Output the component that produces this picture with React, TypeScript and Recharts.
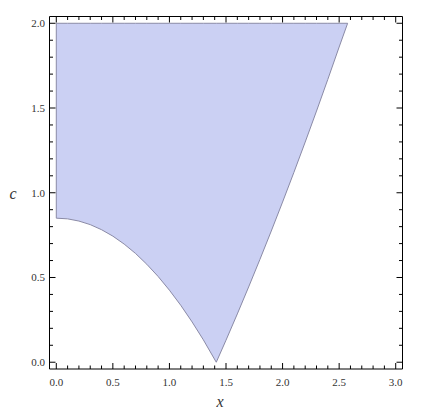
import React from "react";
import { ComposedChart, Area, XAxis, YAxis, ReferenceLine, Label } from "recharts";

// lower boundary, left part (x from 0 to the cusp)
const lowerLeftX = [0, 0.1, 0.2, 0.3, 0.4, 0.5, 0.6, 0.7, 0.8, 0.9, 1.0, 1.1, 1.2, 1.3, 1.414];
const lowerLeftC = [0.85, 0.846, 0.833, 0.812, 0.782, 0.744, 0.697, 0.642, 0.578, 0.506, 0.425, 0.336, 0.238, 0.132, 0];
// right boundary (from the cusp up to c = 2)
const rightX = [1.5, 1.6, 1.7, 1.8, 1.9, 2.0, 2.1, 2.2, 2.3, 2.4, 2.5, 2.575];
const rightC = [0.13, 0.285, 0.444, 0.607, 0.774, 0.945, 1.12, 1.299, 1.482, 1.669, 1.86, 2.0];
const topC = 2;

const xMajor = [0, 0.5, 1, 1.5, 2, 2.5, 3];
const yMajor = [0, 0.5, 1, 1.5, 2];

const minorStep = 0.1;
const fillTicks = (max: number) =>
  Array.from({ length: Math.round(max / minorStep) + 1 }, (_, i) => Math.round(i * minorStep * 10) / 10);
const xTicks = fillTicks(xMajor[xMajor.length - 1]);
const yTicks = fillTicks(yMajor[yMajor.length - 1]);

const region = [
  ...lowerLeftX.map((x, i) => ({ x, band: [lowerLeftC[i], topC] })),
  ...rightX.map((x, i) => ({ x, band: [rightC[i], topC] })),
];

const FILL = "#cbd0f3";
const EDGE = "#8a8aa6";
const TEXT = "#333";
const FONT = "Liberation Serif";

const isMajor = (v: number) => Math.abs(v * 2 - Math.round(v * 2)) < 1e-6;

const makeTick = (side: "bottom" | "top" | "left" | "right", labels: boolean) => (props: any) => {
  const { x, y, payload } = props;
  const v = payload.value as number;
  const len = isMajor(v) ? 6 : 3.5;
  const showLabel = labels && isMajor(v);
  let line;
  if (side === "bottom") line = <line x1={x} y1={y} x2={x} y2={y - len} stroke="#000" />;
  else if (side === "top") line = <line x1={x} y1={y} x2={x} y2={y + len} stroke="#000" />;
  else if (side === "left") line = <line x1={x} y1={y} x2={x + len} y2={y} stroke="#000" />;
  else line = <line x1={x} y1={y} x2={x - len} y2={y} stroke="#000" />;
  return (
    <g>
      {line}
      {showLabel && side === "bottom" && (
        <text x={x} y={y + 17} textAnchor="middle" fontSize={11} style={{ fontFamily: FONT }} fill={TEXT}>
          {v.toFixed(1)}
        </text>
      )}
      {showLabel && side === "left" && (
        <text x={x - 4.5} y={y + 4} textAnchor="end" fontSize={11} style={{ fontFamily: FONT }} fill={TEXT}>
          {v.toFixed(1)}
        </text>
      )}
    </g>
  );
};

export default function App() {
  const xDomain = [-0.06, 3.06];
  const yDomain = [-0.04, 2.04];
  return (
    <ComposedChart
      width={414}
      height={411}
      data={region}
      margin={{ top: 7.5, right: 18.5, bottom: 0, left: 0.5 }}
    >
      <XAxis
        dataKey="x"
        type="number"
        domain={xDomain}
        allowDataOverflow
        ticks={xTicks}
        interval={0}
        height={50}
        tickSize={0}
        tickMargin={0}
        tickLine={false}
        axisLine={{ stroke: "#000" }}
        tick={makeTick("bottom", true)}
      >
        <Label
          content={(p: any) => (
            <text
              x={p.viewBox.x + p.viewBox.width / 2 - 6}
              y={p.viewBox.y + 38}
              textAnchor="middle"
              fontSize={16}
              fontStyle="italic"
              style={{ fontFamily: FONT }}
              fill={TEXT}
            >
              x
            </text>
          )}
        />
      </XAxis>
      <XAxis
        xAxisId="t"
        orientation="top"
        dataKey="x"
        type="number"
        domain={xDomain}
        allowDataOverflow
        ticks={xTicks}
        interval={0}
        height={1}
        tickSize={0}
        tickMargin={0}
        tickLine={false}
        axisLine={{ stroke: "#000" }}
        tick={makeTick("top", false)}
      />
      <YAxis
        type="number"
        domain={yDomain}
        allowDataOverflow
        ticks={yTicks}
        interval={0}
        width={41}
        tickSize={0}
        tickMargin={0}
        tickLine={false}
        axisLine={{ stroke: "#000" }}
        tick={makeTick("left", true)}
      >
        <Label
          content={(p: any) => (
            <text
              x={5}
              y={p.viewBox.y + p.viewBox.height / 2 + 6}
              textAnchor="middle"
              fontSize={16}
              fontStyle="italic"
              style={{ fontFamily: FONT }}
              fill={TEXT}
            >
              c
            </text>
          )}
        />
      </YAxis>
      <YAxis
        yAxisId="r"
        orientation="right"
        type="number"
        domain={yDomain}
        allowDataOverflow
        ticks={yTicks}
        interval={0}
        width={1}
        tickSize={0}
        tickMargin={0}
        tickLine={false}
        axisLine={{ stroke: "#000" }}
        tick={makeTick("right", false)}
      />
      <Area
        dataKey="band"
        type="linear"
        fill={FILL}
        fillOpacity={1}
        stroke={EDGE}
        strokeWidth={1}
        dot={false}
        activeDot={false}
        isAnimationActive={false}
      />
      <Area
        xAxisId="t"
        yAxisId="r"
        dataKey="band"
        type="linear"
        fill="none"
        stroke="none"
        dot={false}
        activeDot={false}
        isAnimationActive={false}
      />
      <ReferenceLine
        segment={[
          { x: lowerLeftX[0], y: lowerLeftC[0] },
          { x: lowerLeftX[0], y: topC },
        ]}
        stroke={EDGE}
        strokeWidth={1}
      />
    </ComposedChart>
  );
}
